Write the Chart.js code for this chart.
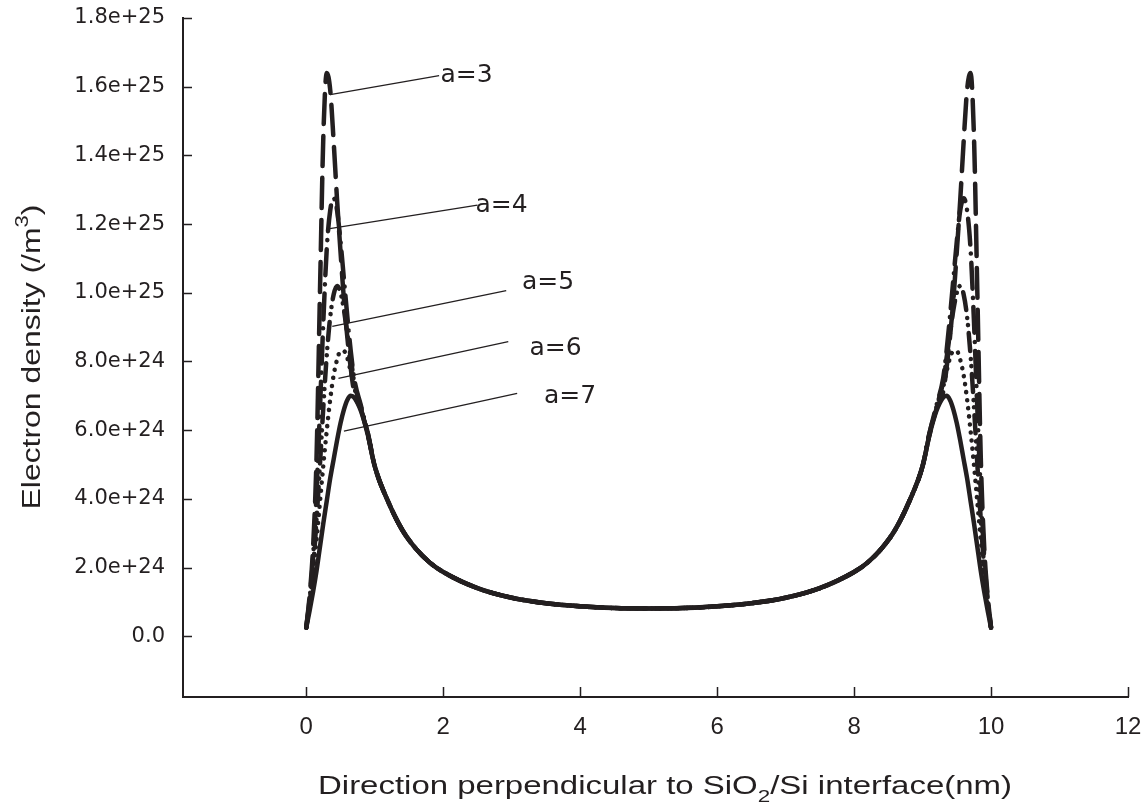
<!DOCTYPE html>
<html>
<head>
<meta charset="utf-8">
<script src="https://cdn.jsdelivr.net/npm/chart.js@4.4.0/dist/chart.umd.min.js"></script>
<style>
    html, body { margin: 0; padding: 0; background: #fff; }
    canvas { display: block; }
</style>
</head>
<body>
<canvas id="densityChart" width="1145" height="807"></canvas>
<script>
// position across the channel (nm)
const positions = [0, 0.05, 0.1, 0.15, 0.2, 0.25, 0.3, 0.35, 0.4, 0.45, 0.5, 0.55, 0.6, 0.65, 0.7, 0.8, 0.9, 1.0,
    1.2, 1.4, 1.6, 1.8, 2.0, 2.5, 3.0, 3.5, 4.0, 4.5, 5.0, 5.5, 6.0, 6.5, 7.0, 7.5, 8.0, 8.2, 8.4, 8.6, 8.8,
    9.0, 9.1, 9.2, 9.3, 9.35, 9.4, 9.45, 9.5, 9.55, 9.6, 9.65, 9.7, 9.75, 9.8, 9.85, 9.9, 9.95, 10.0];

// electron density, in units of 1e24 /m^3
const densityA3 = [0.25, 1.2, 2.6, 5.2, 10.0, 14.6, 16.4, 15.9, 14.4, 12.7, 11.2, 9.8, 8.7, 7.8, 7.1, 6.6, 5.85, 4.95,
    3.9, 3.1, 2.55, 2.15, 1.87, 1.4, 1.12, 0.96, 0.87, 0.82, 0.81, 0.82, 0.87, 0.96, 1.12, 1.4, 1.87, 2.15, 2.55, 3.1, 3.9,
    4.95, 5.85, 6.6, 7.1, 7.8, 8.7, 9.8, 11.2, 12.7, 14.4, 15.9, 16.4, 14.6, 10.0, 5.2, 2.6, 1.2, 0.25];
const densityA4 = [0.25, 1.1, 2.3, 4.2, 6.6, 9.2, 11.3, 12.4, 12.75, 12.4, 11.5, 10.4, 9.3, 8.3, 7.5, 6.7, 5.9, 4.95,
    3.9, 3.1, 2.55, 2.15, 1.87, 1.4, 1.12, 0.96, 0.87, 0.82, 0.81, 0.82, 0.87, 0.96, 1.12, 1.4, 1.87, 2.15, 2.55, 3.1, 3.9,
    4.95, 5.9, 6.7, 7.5, 8.3, 9.3, 10.4, 11.5, 12.4, 12.75, 12.4, 11.3, 9.2, 6.6, 4.2, 2.3, 1.1, 0.25];
const densityA5 = [0.25, 1.0, 2.0, 3.4, 5.0, 6.7, 8.2, 9.3, 9.95, 10.2, 10.0, 9.5, 8.8, 8.1, 7.4, 6.65, 5.9, 4.95,
    3.9, 3.1, 2.55, 2.15, 1.87, 1.4, 1.12, 0.96, 0.87, 0.82, 0.81, 0.82, 0.87, 0.96, 1.12, 1.4, 1.87, 2.15, 2.55, 3.1, 3.9,
    4.95, 5.9, 6.65, 7.4, 8.1, 8.8, 9.5, 10.0, 10.2, 9.95, 9.3, 8.2, 6.7, 5.0, 3.4, 2.0, 1.0, 0.25];
const densityA6 = [0.25, 0.9, 1.8, 2.8, 3.9, 5.0, 6.0, 6.9, 7.6, 8.05, 8.3, 8.3, 8.1, 7.7, 7.25, 6.6, 5.88, 4.95,
    3.9, 3.1, 2.55, 2.15, 1.87, 1.4, 1.12, 0.96, 0.87, 0.82, 0.81, 0.82, 0.87, 0.96, 1.12, 1.4, 1.87, 2.15, 2.55, 3.1, 3.9,
    4.95, 5.88, 6.6, 7.25, 7.7, 8.1, 8.3, 8.3, 8.05, 7.6, 6.9, 6.0, 5.0, 3.9, 2.8, 1.8, 0.9, 0.25];
const densityA7 = [0.25, 0.75, 1.3, 1.9, 2.6, 3.3, 3.95, 4.6, 5.15, 5.7, 6.2, 6.6, 6.88, 7.0, 6.95, 6.55, 5.85, 4.95,
    3.9, 3.1, 2.55, 2.15, 1.87, 1.4, 1.12, 0.96, 0.87, 0.82, 0.81, 0.82, 0.87, 0.96, 1.12, 1.4, 1.87, 2.15, 2.55, 3.1, 3.9,
    4.95, 5.85, 6.55, 6.95, 7.0, 6.88, 6.6, 6.2, 5.7, 5.15, 4.6, 3.95, 3.3, 2.6, 1.9, 1.3, 0.75, 0.25];

const seriesNames = ['a=3', 'a=4', 'a=5', 'a=6', 'a=7'];

const xTickValues = [0, 2, 4, 6, 8, 10, 12];
const yTickValues = [0, 2, 4, 6, 8, 10, 12, 14, 16, 18];
const yTickLabels = ['0.0', '2.0e+24', '4.0e+24', '6.0e+24', '8.0e+24', '1.0e+25', '1.2e+25', '1.4e+25', '1.6e+25', '1.8e+25'];

const INK = '#231f20';
const SANS = '"Liberation Sans", Arial, sans-serif';
const WIDE = '"DejaVu Sans", sans-serif';

// line pattern per curve
const dashes = [[30, 12], [26, 9, 0.1, 9], [18, 8, 0.1, 7, 0.1, 8], [0.1, 8], []];

// callouts: where each leader starts on the curve, where it ends, and where its text sits (axis units)
const callouts = [
    { from: [0.35, 15.77], to: [1.94, 16.32], text: [1.96, 16.32] },
    { from: [0.32, 11.86], to: [2.50, 12.55], text: [2.47, 12.55] },
    { from: [0.38, 9.02], to: [2.92, 10.06], text: [3.15, 10.29] },
    { from: [0.47, 7.51], to: [2.95, 8.58], text: [3.26, 8.38] },
    { from: [0.55, 5.97], to: [3.08, 7.07], text: [3.47, 6.99] },
];

const allDensity = [densityA3, densityA4, densityA5, densityA6, densityA7];

const datasets = allDensity.map((ys, i) => ({
    label: seriesNames[i],
    data: positions.map((x, j) => ({ x: x, y: ys[j] })),
    borderColor: INK,
    borderWidth: 4.5,
    borderDash: dashes[i],
    borderCapStyle: 'round',
    borderJoinStyle: 'round',
    cubicInterpolationMode: 'monotone',
    pointRadius: 0,
    fill: false,
}));

// text with a sub- or superscript part, centred on the current origin and
// stretched along its run to the given length
function drawRich(ctx, parts, size, length) {
    const small = Math.round(size * 0.68);
    const fontFor = kind => (kind ? small : size) + 'px ' + SANS;
    let total = 0;
    parts.forEach(([t, kind]) => {
        ctx.font = fontFor(kind);
        total += ctx.measureText(t).width;
    });
    ctx.scale(length / total, 1);
    ctx.textAlign = 'left';
    ctx.textBaseline = 'alphabetic';
    let x = -total / 2;
    parts.forEach(([t, kind]) => {
        ctx.font = fontFor(kind);
        const dy = kind === 'sub' ? size * 0.32 : kind === 'sup' ? -size * 0.48 : 0;
        ctx.fillText(t, x, dy);
        x += ctx.measureText(t).width;
    });
}

const inwardTicks = {
    id: 'inwardTicks',
    afterDraw(chart) {
        const { ctx, chartArea } = chart;
        const xs = chart.scales.x, ys = chart.scales.y;
        ctx.save();
        ctx.strokeStyle = INK;
        ctx.lineWidth = 1.5;
        ctx.beginPath();
        xTickValues.forEach(v => {
            const px = Math.round(xs.getPixelForValue(v)) + 0.5;
            ctx.moveTo(px, chartArea.bottom);
            ctx.lineTo(px, chartArea.bottom - 10);
        });
        yTickValues.forEach(v => {
            const py = Math.round(ys.getPixelForValue(v)) + 0.5;
            ctx.moveTo(chartArea.left, py);
            ctx.lineTo(chartArea.left + 9, py);
        });
        ctx.stroke();
        ctx.restore();
    }
};

const axisTitles = {
    id: 'axisTitles',
    afterDraw(chart) {
        const { ctx } = chart;
        ctx.save();
        ctx.fillStyle = INK;
        ctx.translate(665, 794);
        drawRich(ctx, [['Direction perpendicular to SiO', ''], ['2', 'sub'], ['/Si interface(nm)', '']], 25, 694);
        ctx.restore();

        ctx.save();
        ctx.fillStyle = INK;
        ctx.translate(40, 357);
        ctx.rotate(-Math.PI / 2);
        drawRich(ctx, [['Electron density (/m', ''], ['3', 'sup'], [')', '']], 26, 305);
        ctx.restore();
    }
};

const curveLabels = {
    id: 'curveLabels',
    afterDatasetsDraw(chart) {
        const { ctx } = chart;
        const xs = chart.scales.x, ys = chart.scales.y;
        const px = p => [xs.getPixelForValue(p[0]), ys.getPixelForValue(p[1])];
        ctx.save();
        ctx.strokeStyle = INK;
        ctx.fillStyle = INK;
        ctx.lineWidth = 1.3;
        ctx.font = '25px ' + WIDE;
        ctx.textAlign = 'left';
        ctx.textBaseline = 'middle';
        callouts.forEach((c, i) => {
            const a = px(c.from), b = px(c.to), t = px(c.text);
            ctx.beginPath();
            ctx.moveTo(a[0], a[1]);
            ctx.lineTo(b[0], b[1]);
            ctx.stroke();
            ctx.fillText(seriesNames[i], t[0], t[1]);
        });
        ctx.restore();
    }
};

const ctx = document.getElementById('densityChart').getContext('2d');

new Chart(ctx, {
    type: 'line',
    data: { datasets: datasets },
    options: {
        responsive: false,
        animation: false,
        devicePixelRatio: 1,
        layout: { padding: { left: 0, right: 17, top: 18, bottom: 0 } },
        plugins: {
            legend: { display: false },
            tooltip: { enabled: false },
        },
        scales: {
            x: {
                type: 'linear',
                min: -1.8,
                max: 12,
                grid: { display: false, drawTicks: false },
                border: { display: true, color: INK, width: 2 },
                ticks: {
                    color: INK,
                    font: { family: SANS, size: 24 },
                    padding: 16,
                    maxRotation: 0,
                    callback: v => String(v),
                },
                afterBuildTicks: s => { s.ticks = xTickValues.map(v => ({ value: v })); },
                afterFit: s => { s.height = 110; s.paddingLeft = 0; s.paddingRight = 0; },
            },
            y: {
                type: 'linear',
                min: -1.77,
                max: 18,
                grid: { display: false, drawTicks: false },
                border: { display: true, color: INK, width: 2 },
                ticks: {
                    color: INK,
                    font: { family: WIDE, size: 21 },
                    padding: 18,
                    callback: v => yTickLabels[yTickValues.indexOf(v)],
                },
                afterBuildTicks: s => { s.ticks = yTickValues.map(v => ({ value: v })); },
                afterFit: s => { s.width = 183; s.paddingTop = 0; s.paddingBottom = 0; },
            },
        },
    },
    plugins: [inwardTicks, axisTitles, curveLabels],
});
</script>
</body>
</html>
